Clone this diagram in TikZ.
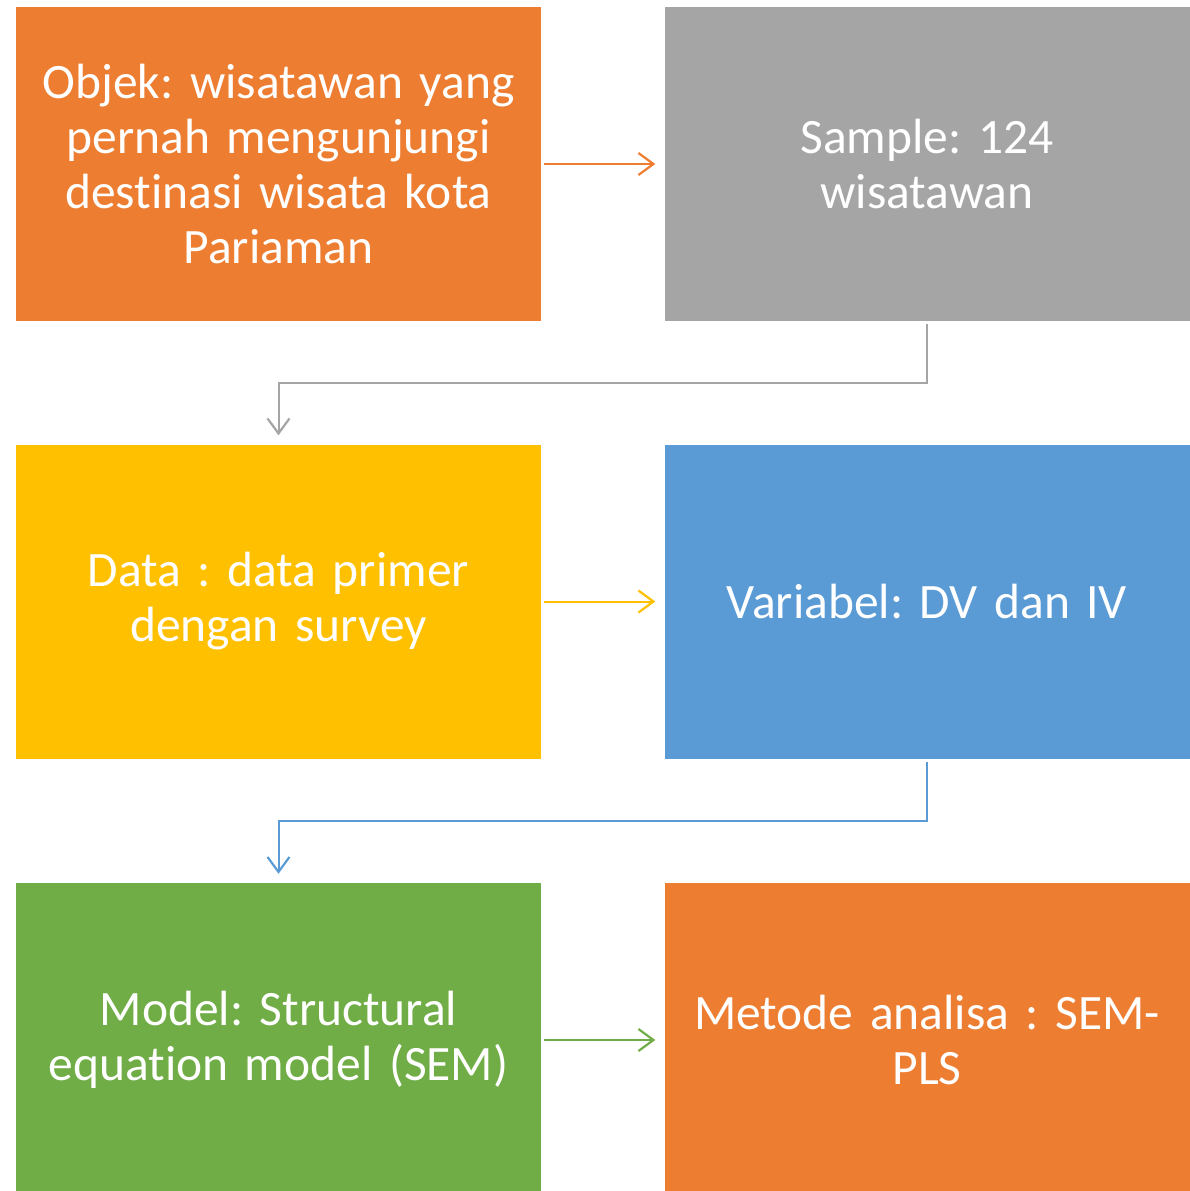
\documentclass[tikz,border=0pt]{standalone}
\usepackage{fontspec}
\setmainfont[Ligatures={NoCommon}]{Carlito}
\usetikzlibrary{arrows.meta}
\definecolor{corange}{HTML}{ED7D31}
\definecolor{cgray}{HTML}{A5A5A5}
\definecolor{cyellow}{HTML}{FFC000}
\definecolor{cblue}{HTML}{5B9BD5}
\definecolor{cgreen}{HTML}{70AD47}
\tikzset{
  box/.style={fill=#1, draw=none, minimum width=525pt, minimum height=314pt, inner sep=0pt,
    text=white, align=center, text width=515pt,
    font=\fontsize{49.5pt}{55pt}\selectfont\frenchspacing},
  conn/.style={draw=#1, line width=2pt, -{Straight Barb[length=15pt,width=22pt,line width=2.2pt]}},
}
\begin{document}
\begin{tikzpicture}[x=1pt,y=-1pt]
\useasboundingbox (0,0) rectangle (1190,1191);
\node[box=corange] (obj) at (278.5,164) {Objek: wisatawan yang\\pernah mengunjungi\\destinasi wisata kota\\Pariaman};
\node[box=cgray] (smp) at (927,164) {Sample: 124\\wisatawan};
\node[box=cyellow] (dat) at (278.5,601.5) {Data : data primer\\dengan survey};
\node[box=cblue] (var) at (927,601.5) {Variabel: DV dan IV};
\node[box=cgreen] (mod) at (278.5,1040) {Model: Structural\\equation model (SEM)};
\node[box=corange] (met) at (927,1040) {Metode analisa : SEM-\\PLS};
\draw[conn=corange] ([xshift=3pt]obj.east) -- ([xshift=-9pt]smp.west);
\draw[conn=cyellow] ([xshift=3pt]dat.east) -- ([xshift=-9pt]var.west);
\draw[conn=cgreen] ([xshift=3pt]mod.east) -- ([xshift=-9pt]met.west);
\draw[conn=cgray] ([yshift=-3pt]smp.south) -- ++(0,59) -| ([yshift=9pt]dat.north);
\draw[conn=cblue] ([yshift=-3pt]var.south) -- ++(0,59) -| ([yshift=9pt]mod.north);
\end{tikzpicture}
\end{document}
